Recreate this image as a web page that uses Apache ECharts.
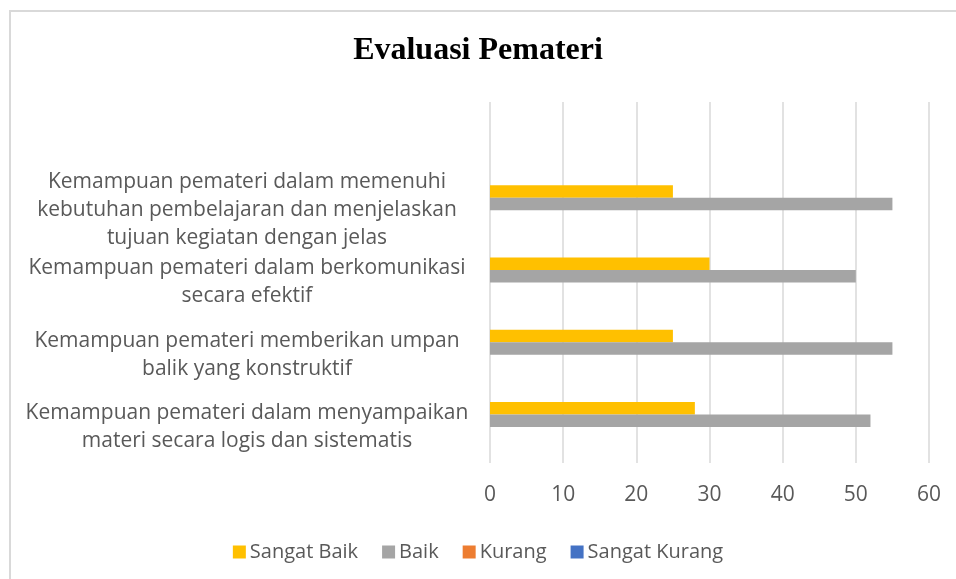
<!DOCTYPE html>
<html>
<head>
<meta charset="utf-8">
<script src="https://cdn.jsdelivr.net/npm/echarts@6/dist/echarts.min.js"></script>
<style>
  html, body { margin: 0; padding: 0; background: #fff; }
  #chart { width: 956px; height: 579px; }
</style>
</head>
<body>
<div id="chart"></div>
<script>
// categories, bottom to top (Excel order); last one is an empty row
const categories = [
  'Kemampuan pemateri dalam menyampaikan\nmateri secara logis dan sistematis',
  'Kemampuan pemateri memberikan umpan\nbalik yang konstruktif',
  'Kemampuan pemateri dalam berkomunikasi\nsecara efektif',
  'Kemampuan pemateri dalam memenuhi\nkebutuhan pembelajaran dan menjelaskan\ntujuan kegiatan dengan jelas',
  ''
];
const seriesNames = ['Sangat Baik', 'Baik', 'Kurang', 'Sangat Kurang'];
const sangatBaik = [28, 25, 30, 25, null];
const baik = [52, 55, 50, 55, null];
const kurang = [0, 0, 0, 0, null];
const sangatKurang = [0, 0, 0, 0, null];
const colors = ['#FFC000', '#A5A5A5', '#ED7D31', '#4472C4'];

const font = '"Open Sans", sans-serif';
const chart = echarts.init(document.getElementById('chart'));

const values = [sangatBaik, baik, kurang, sangatKurang];
const option = {
  animation: false,
  color: colors,
  title: {
    text: 'Evaluasi Pemateri',
    left: 'center',
    top: 30,
    textStyle: {
      fontFamily: '"Liberation Serif", "Times New Roman", serif',
      fontWeight: 'bold',
      fontSize: 32,
      color: '#000'
    }
  },
  graphic: [
    {
      type: 'rect',
      shape: { x: 10, y: 11, width: 1000, height: 1000 },
      style: { fill: 'none', stroke: '#d9d9d9', lineWidth: 2 },
      silent: true
    }
  ],
  legend: {
    data: seriesNames,
    left: 'center',
    top: 537,
    itemWidth: 13,
    itemHeight: 13,
    itemGap: 24,
    icon: 'rect',
    textStyle: { fontFamily: font, fontSize: 20, color: '#595959', padding: [0, 0, 0, -1] }
  },
  grid: {
    left: 490,
    right: 27,
    top: 102,
    bottom: 116
  },
  xAxis: {
    type: 'value',
    min: 0,
    max: 60,
    interval: 10,
    axisLine: { show: false },
    axisTick: { show: false },
    splitLine: { lineStyle: { color: '#d9d9d9', width: 1.5 } },
    axisLabel: { fontFamily: font, fontSize: 21, color: '#595959', margin: 22 }
  },
  yAxis: {
    type: 'category',
    data: categories,
    axisLine: { show: false },
    axisTick: { show: false },
    axisLabel: {
      fontFamily: font,
      fontSize: 21,
      lineHeight: 28,
      color: '#595959',
      align: 'center',
      margin: 243
    }
  },
  series: seriesNames.map((name, i) => ({
    name: name,
    type: 'bar',
    data: values[i],
    barWidth: 12.5,
    barGap: '0%'
  }))
};
chart.setOption(option);
</script>
</body>
</html>
